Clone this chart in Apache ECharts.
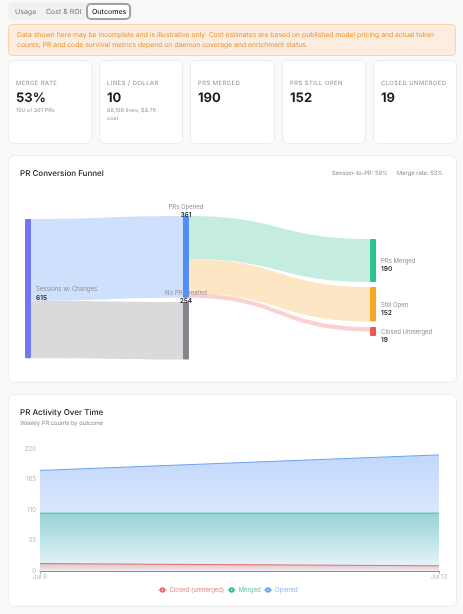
<!DOCTYPE html>
<html><head><meta charset="utf-8">
<script src="https://cdn.jsdelivr.net/npm/echarts@6/dist/echarts.min.js"></script>
<style>
html,body{margin:0;padding:0;background:#f9f9f9;width:463px;height:614px;overflow:hidden;font-family:Inter,sans-serif;text-rendering:geometricPrecision;}
.a{position:absolute;white-space:nowrap;line-height:1;will-change:transform;}
.card{position:absolute;background:#fff;border:1px solid #ececec;border-radius:6px;box-sizing:border-box;}
#chart{position:absolute;left:0;top:0;width:463px;height:614px;}
</style></head><body>
<div id="page"></div>
<div id="chart"></div>
<script>
// ---- data ----
const tabs = ['Usage', 'Cost & ROI', 'Outcomes'];
const noticeLines = [
  'Data shown here may be incomplete and is illustrative only. Cost estimates are based on published model pricing and actual token',
  'counts; PR and code survival metrics depend on daemon coverage and enrichment status.'
];
const kpiLabels = ['MERGE RATE', 'LINES / DOLLAR', 'PRS MERGED', 'PRS STILL OPEN', 'CLOSED UNMERGED'];
const kpiValues = ['53%', '10', '190', '152', '19'];
const kpiNotes = [['190 of 361 PRs'], ['88,169 lines, $8.7K', 'cost'], [], [], []];
const nodeNames = ['Sessions w/ Changes', 'PRs Opened', 'No PR Created', 'PRs Merged', 'Still Open', 'Closed Unmerged'];
const nodeCounts = [615, 361, 254, 190, 152, 19];
const linkSources = [0, 0, 1, 1, 1];
const linkTargets = [1, 2, 3, 4, 5];
const linkValues = [361, 254, 190, 152, 19];
const weeks = ['Jul 6', 'Jul 13'];
const opened = [181, 209];
const merged = [104, 104];
const closed = [13, 9];
const yTicks = [0, 55, 110, 165, 220];

// ---- page furniture ----
const page = document.getElementById('page');
function box(l, t, w, h, css) { const d = document.createElement('div'); d.className = 'card'; d.style.cssText = `left:${l}px;top:${t}px;width:${w}px;height:${h}px;` + (css || ''); page.appendChild(d); return d; }
function text(s, l, t, css) { const d = document.createElement('div'); d.className = 'a'; d.textContent = s; d.style.cssText = `left:${l}px;top:${t}px;` + css; page.appendChild(d); return d; }

box(8, 2, 124, 18, 'background:#f1f1f1;border:none;border-radius:5px;');
box(85.5, 2.5, 45.5, 17, 'background:#fff;border:2px solid #a0a0a8;border-radius:5px;');
[[14.5, '#777'], [45.5, '#777'], [91.5, '#222']].forEach((p, i) => text(tabs[i], p[0], 7.5, `font-size:7px;font-weight:${i == 2 ? 500 : 400};color:${p[1]};`));

box(8, 24, 448, 32, 'background:#fbeee0;border:1px solid #fbd79f;border-radius:4px;');
noticeLines.forEach((s, i) => text(s, 16.5, 32 + i * 10, 'font-size:6.8px;color:#f0902e;'));

const kpiX = [[7.5, 84], [98.5, 84], [189.5, 85], [281.5, 84], [372.5, 84]];
kpiLabels.forEach((s, i) => {
  const l = kpiX[i][0];
  box(l, 59.5, kpiX[i][1], 84);
  text(s, l + 8.5, 81, 'font-size:5.8px;letter-spacing:.5px;color:#8a8a8a;');
  text(kpiValues[i], l + 8.5, 91.5, 'font-size:13px;font-weight:700;color:#1c1c1e;');
  kpiNotes[i].forEach((n, j) => text(n, l + 8.5, 108.5 + j * 8, 'font-size:5.6px;color:#9a9a9a;'));
});

box(7.5, 154.5, 449, 228);
text('PR Conversion Funnel', 20, 169, 'font-size:8px;font-weight:500;color:#222;');
text('Session-to-PR: 59%', 331.5, 171, 'font-size:5.8px;color:#8a8a90;');
text('Merge rate: 53%', 397, 171, 'font-size:5.8px;color:#8a8a90;');

box(7.5, 393.5, 449, 213);
text('PR Activity Over Time', 20, 408, 'font-size:8px;font-weight:500;color:#222;');
text('Weekly PR counts by outcome', 20, 420.5, 'font-size:5.8px;color:#8a8a90;');

// ---- chart styling ----
const nodeColors = ['#7476f2', '#4f8ef7', '#85858a', '#2bc48f', '#f7a823', '#ef5757'];
const linkColors = ['#cfe0fd', '#dadadc', '#c5eddf', '#fde6c3', '#fbd0d0'];
const sankeyHeight = 162;
const localX = [0, 0.45, 0.45, 0.983, 0.983, 0.983];
const nodeTopOffsets = [3, 0, 86, 23, 71, 111];
const minDrawn = [0, 0, 0, 0, 0, 40];
const topLabel = [false, true, true, false, false, false];

function grad(rgb, a0, a1) {
  return { type: 'linear', x: 0, y: 0, x2: 0, y2: 1, colorStops: [{ offset: 0, color: `rgba(${rgb},${a0})` }, { offset: 1, color: `rgba(${rgb},${a1})` }] };
}
function lineSeries(name, data, color, rgb, a0, a1, z) {
  return { type: 'line', name, data, z, symbol: 'emptyCircle', symbolSize: 3, showSymbol: false, lineStyle: { color, width: 1 }, itemStyle: { color },
    areaStyle: { color: grad(rgb, a0, a1), origin: 'start' }, animation: false };
}
function legendItem(name, color, textColor) {
  return { name, itemStyle: { color }, lineStyle: { color, width: 1 }, textStyle: { color: textColor } };
}

const chart = echarts.init(document.getElementById('chart'), null, { renderer: 'canvas' });
chart.setOption({
  backgroundColor: 'transparent',
  animation: false,
  textStyle: { fontFamily: 'Inter, sans-serif' },
  grid: { left: 40, top: 448.8, width: 399, height: 122, containLabel: false },
  legend: {
    data: [legendItem('Closed (unmerged)', '#e8686c', '#ea8084'), legendItem('Merged', '#35b998', '#55c4a8'), legendItem('Opened', '#6d9ff8', '#8cb2fa')],
    left: 153, top: 582, itemWidth: 8, itemHeight: 4.5, itemGap: 3,
    textStyle: { fontSize: 6, padding: [0, 0, 0, -2] }
  },
  xAxis: { type: 'category', data: weeks, boundaryGap: false,
    axisLine: { lineStyle: { color: '#8c8c8c', width: 1 } }, axisTick: { show: true, length: 3, lineStyle: { color: '#aaa' }, alignWithLabel: true },
    axisLabel: { color: '#b5b5b5', fontSize: 6, margin: 3, showMinLabel: true, showMaxLabel: true }, splitLine: { show: false } },
  yAxis: { type: 'value', min: 0, max: 220, interval: 55,
    axisLine: { show: false }, axisTick: { show: false }, splitLine: { show: false },
    axisLabel: { color: '#b5b5b5', fontSize: 6, margin: 4, formatter: v => yTicks.includes(v) ? String(v) : '' } },
  series: [
    { type: 'sankey', left: 25, top: 216, width: 351, height: sankeyHeight, nodeWidth: 6, nodeGap: 6, layoutIterations: 0, draggable: false, silent: true,
      data: nodeNames.map((name, i) => ({ name, value: Math.max(nodeCounts[i], minDrawn[i]), localX: localX[i], localY: nodeTopOffsets[i] / sankeyHeight,
        itemStyle: { color: nodeColors[i], borderWidth: 0, borderRadius: 1, opacity: 1 },
        label: topLabel[i] ? { position: 'top', distance: -3.5, align: 'center' } : { position: 'right', distance: 5, offset: [0, 5] } })),
      links: linkSources.map((s, i) => ({ source: nodeNames[s], target: nodeNames[linkTargets[i]], value: linkValues[i],
        lineStyle: { color: linkColors[i], opacity: 1, curveness: 0.5 } })),
      label: { show: true, formatter: p => `{n|${p.name}}\n{v|${nodeCounts[nodeNames.indexOf(p.name)]}}`,
        rich: { n: { fontSize: 6, color: '#8f8f95', lineHeight: 8 }, v: { fontSize: 6.5, fontWeight: 600, color: '#2a2a2e', lineHeight: 8 } } },
      animation: false },
    lineSeries('Opened', opened, '#6d9ff8', '59,130,246', 0.45, 0.08, 2),
    lineSeries('Merged', merged, '#3fbf9f', '16,175,135', 0.48, 0.04, 3),
    lineSeries('Closed (unmerged)', closed, '#ea6a6e', '225,80,85', 0.42, 0.1, 4)
  ]
});
</script>
</body></html>
